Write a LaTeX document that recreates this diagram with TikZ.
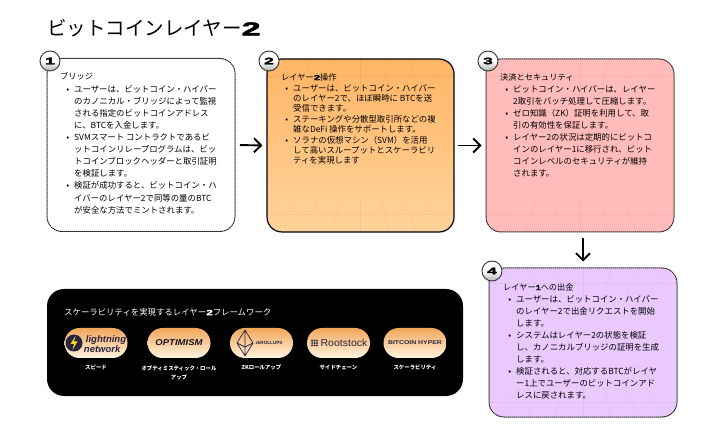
\documentclass[tikz,border=0pt]{standalone}
\usepackage{fontspec}
\setmainfont{Noto Sans CJK JP}
\newfontfamily\latinbold{Liberation Sans}[BoldFont=Liberation Sans Bold]
\newfontfamily\heavyfig{Liberation Sans Bold}[FakeBold=2.5]
\usetikzlibrary{arrows.meta}
\usetikzlibrary{positioning}
\definecolor{logonavy}{HTML}{2A2440}
\definecolor{pilltop}{HTML}{F2A65A}
\definecolor{pilllow}{HTML}{FFF4E0}
\definecolor{orangetop}{HTML}{FFB565}
\definecolor{orangelow}{HTML}{FFD39C}
\definecolor{pinkfill}{HTML}{FFBCBA}
\definecolor{lilacfill}{HTML}{EAC9FF}
\newcommand{\widefig}[1]{\scalebox{1.75}[0.95]{\heavyfig #1}}
\newcommand{\smallfig}[1]{\scalebox{1.4}[0.9]{\heavyfig #1}}
\newcommand{\bul}{\llap{\textbullet\hspace{5pt}}}
% faint fan of lines inside a box
\newcommand{\fanlines}[3]{
  \begin{scope}
    \clip[rounded corners=15pt] (#1.south west) rectangle (#1.north east);
    \foreach \fanx in {-0.9,-0.6,-0.3,0,0.3,0.6,0.9} {
      \draw[black,opacity=0.05,line width=0.4pt] ([shift={(\fanx*#2*0.75,#3*0.6)}]#1.center) -- ([shift={(\fanx*#2,#3)}]#1.center);
      \draw[black,opacity=0.05,line width=0.4pt] ([shift={(\fanx*#2*0.75,-#3*0.6)}]#1.center) -- ([shift={(\fanx*#2,-#3)}]#1.center);
    }
    \draw[black,opacity=0.04,line width=0.4pt] ([shift={(-#2,#3*0.8)}]#1.center) -- ([shift={(#2,#3*0.8)}]#1.center);
    \draw[black,opacity=0.04,line width=0.4pt] ([shift={(-#2,-#3*0.8)}]#1.center) -- ([shift={(#2,-#3*0.8)}]#1.center);
  \end{scope}
}
\tikzset{
  panel/.style={rounded corners=15pt,minimum width=#1,inner sep=0pt},
  dotline/.style={draw=black!85,densely dotted,line width=1pt},
  numdisc/.style={circle,draw=black!75,line width=1pt,minimum size=20pt,inner sep=0pt,
    top color=white,bottom color=black!30,middle color=white,font=\fontsize{10}{10}\selectfont},
  headtext/.style={anchor=west,inner sep=0pt,font=\fontsize{8.2}{10}\selectfont},
  bodytext/.style={anchor=north west,inner sep=0pt,align=left,font=\fontsize{8.4}{12.1}\selectfont},
  bigarrow/.style={-{Straight Barb[length=7pt,width=14pt]},line width=1.9pt},
  pill/.style={rounded corners=15pt,minimum width=63pt,minimum height=30pt,inner sep=0pt,
    top color=pilltop,bottom color=pilllow},
  caption/.style={text=white,align=center,font=\fontsize{5.4}{9}\selectfont\bfseries},
}
\begin{document}
\begin{tikzpicture}[x=1pt,y=1pt,line cap=round,line join=round]
\useasboundingbox[fill=white] (0,0) rectangle (720,423);
% title
\node[anchor=west,inner sep=0pt,font=\fontsize{19.5}{20}\selectfont] (title) at (47,395) {ビットコインレイヤー\widefig{2}};
% boxes
\node[panel=188pt,minimum height=173pt,dotline,fill=white] (boxone) at (141,278) {};
\node[panel=187pt,minimum height=173pt,draw=black,line width=1.2pt,top color=orangetop,bottom color=orangelow] (boxtwo) at (360.5,277.5) {};
\node[panel=188pt,minimum height=173pt,dotline,fill=pinkfill] (boxthree) at (580,277.5) {};
\node[panel=188pt,minimum height=149pt,dotline,fill=lilacfill] (boxfour) at (583,80.5) {};
\fanlines{boxtwo}{93}{86}
\fanlines{boxthree}{93}{86}
\fanlines{boxfour}{93}{74}
% numbers
\node[numdisc] (numone) at (50,362) {\widefig{1}};
\node[numdisc] (numtwo) at (269,362) {\widefig{2}};
\node[numdisc] (numthree) at (488,362) {\widefig{3}};
\node[numdisc] (numfour) at (492,152) {\widefig{4}};
% box 1
\node[headtext] (headone) at (60,347) {ブリッジ};
\node[bodytext] (txtone) at (74,338) {\bul ユーザーは、ビットコイン・ハイパー\\
のカノニカル・ブリッジによって監視\\
される指定のビットコインアドレス\\
に、BTCを入金します。\\
\bul SVMスマート コントラクトであるビ\\
ットコインリレープログラムは、ビッ\\
トコインブロックヘッダーと取引証明\\
を検証します。\\
\bul 検証が成功すると、ビットコイン・ハ\\
イバーのレイヤー2で同等の量のBTC\\
が安全な方法でミントされます。};
% box 2
\node[headtext] (headtwo) at (281,346) {レイヤー\smallfig{2}操作};
\node[bodytext,font=\fontsize{8.4}{10.4}\selectfont] (txttwo) at (293,339) {\bul ユーザーは、ビットコイン・ハイパー\\
のレイヤー2で、ほぼ瞬時に BTCを送\\
受信できます。\\
\bul ステーキングや分散型取引所などの複\\
雑なDeFi 操作をサポートします。\\
\bul ソラナの仮想マシン（SVM）を活用\\
して高いスループットとスケーラビリ\\
ティを実現します};
% box 3
\node[headtext] (headthree) at (500,346) {決済とセキュリティ};
\node[bodytext] (txtthree) at (513,338) {\bul ビットコイン・ハイパーは、レイヤー\\
2取引をバッチ処理して圧縮します。\\
\bul ゼロ知識（ZK）証明を利用して、取\\
引の有効性を保証します。\\
\bul レイヤー2の状況は定期的にビットコ\\
インのレイヤー1に移行され、ビット\\
コインレベルのセキュリティが維持\\
されます。};
% box 4
\node[headtext] (headfour) at (503,136) {レイヤー\scalebox{1.1}[0.9]{\heavyfig 1}への出金};
\node[bodytext] (txtfour) at (516,128) {\bul ユーザーは、ビットコイン・ハイパー\\
のレイヤー2で出金リクエストを開始\\
します。\\
\bul システムはレイヤー2の状態を検証\\
し、カノニカルブリッジの証明を生成\\
します。\\
\bul 検証されると、対応するBTCがレイヤ\\
ー1上でユーザーのビットコインアド\\
レスに戻されます。};
% arrows
\draw[bigarrow,shorten <=5pt,shorten >=4pt] (boxone.east) -- (boxtwo.west);
\draw[bigarrow,shorten <=4pt,shorten >=4pt] (boxtwo.east) -- (boxthree.west);
\draw[bigarrow,shorten <=6pt,shorten >=6pt] (boxfour.north |- boxthree.south) -- (boxfour.north);
% black panel
\node[rounded corners=17pt,fill=black,minimum width=416pt,minimum height=107pt,inner sep=0pt] (frame) at (255,80.5) {};
\node[headtext,text=white,font=\fontsize{8.4}{10}\selectfont] (frametitle) at (64,111) {スケーラビリティを実現するレイヤー\smallfig{2}フレームワーク};
% pills
\node[pill] (pillone) at (96,80) {};
\node[pill] (pilltwo) at (179,80) {};
\node[pill] (pillthree) at (261.5,80) {};
\node[pill] (pillfour) at (338.5,80) {};
\node[pill] (pillfive) at (415,80) {};
% logos
\fill[logonavy] (74,80) circle (8.5pt);
\fill[pilltop!40!yellow] (75.5,87) -- (70.5,79) -- (74,79) -- (72.5,73) -- (77.5,81.5) -- (74,81.5) -- cycle;
\node[text=logonavy,align=left,inner sep=0pt,font=\latinbold\fontsize{9.5}{8.5}\selectfont\bfseries\itshape] (logoone) at (105,79) {\hspace{2pt}lightning\\network};
\node[text=logonavy!50!black,inner sep=0pt,font=\latinbold\fontsize{8.5}{9}\selectfont\bfseries\itshape] (logotwo) at (179,80) {\scalebox{1.12}[1]{OPTIMISM}};
\draw[logonavy,line width=0.7pt] (245,93) -- (237,80) -- (245,67) -- (253,80) -- cycle (237,80) -- (245,76) -- (253,80) (245,93) -- (245,67);
\node[text=logonavy,inner sep=0pt,font=\latinbold\fontsize{4.6}{6}\selectfont\bfseries] (logothree) at (269,80) {zkROLLUPS};
\node[text=logonavy,inner sep=0pt,font=\latinbold\fontsize{10}{11}\selectfont] (logofour) at (344,80) {\scalebox{1.05}[1]{Rootstock}};
\foreach \dotx in {-2.4,0,2.4} \foreach \doty in {-2.4,0,2.4}
  \fill[logonavy] (314.5+\dotx,80+\doty) circle (1.1pt);
\node[text=logonavy,inner sep=0pt,font=\latinbold\fontsize{5.5}{5}\selectfont\bfseries] (logofive) at (415,80) {\scalebox{1.25}[1]{BITCOIN HYPER}};
% captions
\node[caption] (capone) at (96,56) {スピード};
\node[caption,anchor=north] (captwo) at (179,60.5) {オプティミスティック・ロール\\アップ};
\node[caption] (capthree) at (261.5,56) {ZKロールアップ};
\node[caption] (capfour) at (338.5,56) {サイドチェーン};
\node[caption] (capfive) at (415,56) {スケーラビリティ};
\end{tikzpicture}
\end{document}
